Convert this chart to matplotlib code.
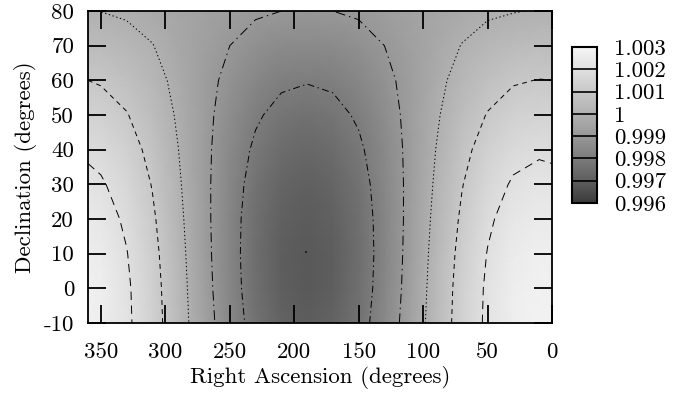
import numpy as np
import matplotlib
matplotlib.use("Agg")
import matplotlib.pyplot as plt
from matplotlib.colors import LinearSegmentedColormap

plt.rcParams['font.family'] = 'cmr10'
plt.rcParams['mathtext.fontset'] = 'cm'
plt.rcParams['axes.formatter.use_mathtext'] = True
plt.rcParams['lines.scale_dashes'] = False

# ---------- data ----------
ra = [0, 10, 30, 50, 70, 90, 110, 130, 150, 170, 190, 210, 230, 250, 270, 290, 310, 330, 350, 360]
dec = [-10, 0, 10, 20, 30, 40, 50, 60, 70, 80]

val_m10 = [1.00280, 1.00285, 1.00267, 1.00216, 1.00138, 1.00042, 0.99940, 0.99845, 0.99767, 0.99716,
           0.99698, 0.99716, 0.99767, 0.99845, 0.99940, 1.00042, 1.00138, 1.00216, 1.00267, 1.00280]
val_0 = [1.00278, 1.00283, 1.00265, 1.00213, 1.00134, 1.00037, 0.99933, 0.99836, 0.99757, 0.99705,
         0.99687, 0.99705, 0.99757, 0.99836, 0.99933, 1.00037, 1.00134, 1.00213, 1.00265, 1.00278]
val_10 = [1.00267, 1.00272, 1.00254, 1.00203, 1.00125, 1.00030, 0.99928, 0.99832, 0.99754, 0.99703,
          0.99685, 0.99703, 0.99754, 0.99832, 0.99928, 1.00030, 1.00125, 1.00203, 1.00254, 1.00267]
val_20 = [1.00248, 1.00252, 1.00235, 1.00187, 1.00112, 1.00021, 0.99924, 0.99833, 0.99758, 0.99710,
          0.99693, 0.99710, 0.99758, 0.99833, 0.99924, 1.00021, 1.00112, 1.00187, 1.00235, 1.00248]
val_30 = [1.00221, 1.00225, 1.00209, 1.00164, 1.00096, 1.00011, 0.99922, 0.99838, 0.99769, 0.99724,
          0.99709, 0.99724, 0.99769, 0.99838, 0.99922, 1.00011, 1.00096, 1.00164, 1.00209, 1.00221]
val_40 = [1.00186, 1.00190, 1.00176, 1.00136, 1.00076, 1.00001, 0.99922, 0.99847, 0.99787, 0.99747,
          0.99733, 0.99747, 0.99787, 0.99847, 0.99922, 1.00001, 1.00076, 1.00136, 1.00176, 1.00186]
val_50 = [1.00145, 1.00148, 1.00137, 1.00104, 1.00053, 0.99990, 0.99924, 0.99861, 0.99810, 0.99777,
          0.99766, 0.99777, 0.99810, 0.99861, 0.99924, 0.99990, 1.00053, 1.00104, 1.00137, 1.00145]
val_60 = [1.00100, 1.00102, 1.00093, 1.00067, 1.00028, 0.99979, 0.99927, 0.99879, 0.99839, 0.99813,
          0.99804, 0.99813, 0.99839, 0.99879, 0.99927, 0.99979, 1.00028, 1.00067, 1.00093, 1.00100]
val_70 = [1.00051, 1.00052, 1.00046, 1.00029, 1.00002, 0.99968, 0.99933, 0.99900, 0.99873, 0.99855,
          0.99849, 0.99855, 0.99873, 0.99900, 0.99933, 0.99968, 1.00002, 1.00029, 1.00046, 1.00051]
val_80 = [1.00003, 1.00004, 0.99997, 0.99989, 0.99975, 0.99958, 0.99940, 0.99923, 0.99909, 0.99900,
          0.99897, 0.99900, 0.99909, 0.99923, 0.99940, 0.99958, 0.99975, 0.99989, 0.99999, 1.00003]

levels = [0.998, 0.999, 1.000, 1.001, 1.002]
cb_ticks = [0.996, 0.997, 0.998, 0.999, 1.000, 1.001, 1.002, 1.003]
cb_labels = ['0.996', '0.997', '0.998', '0.999', '1', '1.001', '1.002', '1.003']
dipole_ra, dipole_dec = [191], [10.4]

Z = np.array([val_m10, val_0, val_10, val_20, val_30, val_40, val_50, val_60, val_70, val_80])
RA, DEC = np.meshgrid(ra, dec)

grays = ['#3a3a3a', '#5e5e5e', '#7c7c7c', '#989898', '#b0b0b0', '#c8c8c8', '#dfdfdf', '#f5f5f5']
cmap = LinearSegmentedColormap.from_list('g', grays)

fig = plt.figure(figsize=(6.94, 4.01), dpi=100)
ax = fig.add_axes([0.1268, 0.1945, 0.6686, 0.778])
mesh = ax.pcolormesh(RA, DEC, Z, shading='gouraud', cmap=cmap, vmin=0.996, vmax=1.003)

styles = [(0, (5, 2.5, 1, 2.5)), (0, (7, 3, 1, 3)), (0, (1, 1.8)), (0, (3.5, 3)), (0, (6, 4))]
ax.contour(RA, DEC, Z, levels=levels, colors='black', linewidths=0.7, linestyles=styles)
ax.plot(dipole_ra, dipole_dec, 's', color='#222222', ms=1.5, mew=0)

ax.set_xlim(360, 0)
ax.set_ylim(-10, 80)
ax.set_xticks([350, 300, 250, 200, 150, 100, 50, 0])
ax.set_xticklabels(['350', '300', '250', '200', '150', '100', '50', '0'])
ax.set_yticks(range(-10, 81, 10))
ax.set_yticklabels(['-10', '0', '10', '20', '30', '40', '50', '60', '70', '80'])
ax.tick_params(direction='in', length=13, width=1.3, top=True, right=True, labelsize=16.5)
ax.tick_params(axis='x', pad=14)
ax.tick_params(axis='y', pad=10)
for s in ax.spines.values():
    s.set_linewidth(1.3)
ax.set_xlabel('Right Ascension (degrees)', fontsize=16.5, labelpad=3)
ax.set_ylabel('Declination (degrees)', fontsize=16.5, labelpad=5)

cax = fig.add_axes([0.8242, 0.4938, 0.036, 0.389])
cb = fig.colorbar(mesh, cax=cax, ticks=cb_ticks)
cb.ax.set_yticklabels(cb_labels)
cb.ax.tick_params(length=0, pad=12, labelsize=16.5)
for t in cb_ticks[1:-1]:
    cb.ax.axhline(t, color='black', lw=1.2)
cb.outline.set_linewidth(1.5)

fig.savefig('out.png', dpi=100)
